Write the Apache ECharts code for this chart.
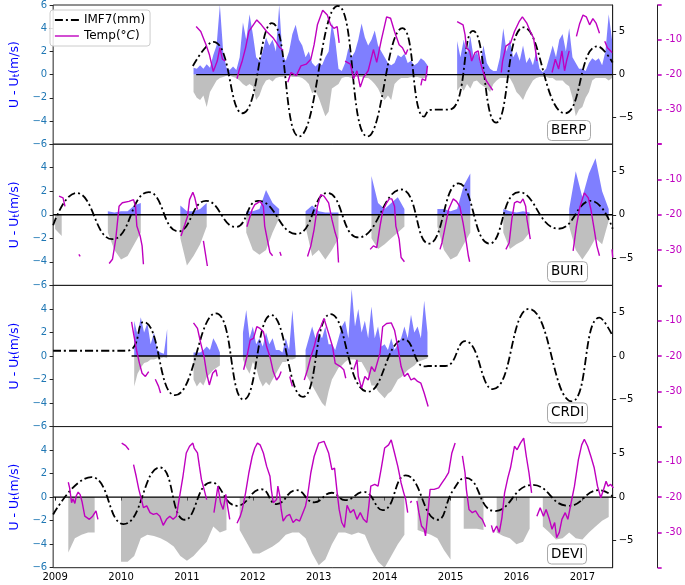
<!DOCTYPE html>
<html><head><meta charset="utf-8">
<script src="https://cdn.jsdelivr.net/npm/echarts@6/dist/echarts.min.js"></script>
<style>html,body{margin:0;padding:0;background:#fff}#c{width:685px;height:585px}</style>
</head><body><div id="c"></div>
<script>
// ---------------- DATA ----------------
const YEARS = [2009, 2010, 2011, 2012, 2013, 2014, 2015, 2016, 2017];
const STATIONS = ['BERP', 'BURI', 'CRDI', 'DEVI'];
const IMF_TICKS = [-5, 0, 5];
const TEMP_TICKS = [-10, -20, -30];

// wind anomaly envelopes (m/s), sampled every WIND_STEP yr from WIND_START
const WIND_START = [2011.10, 2009.0, 2010.20, 2009.0];
const WIND_STEP = [0.05, 0.1, 0.05, 0.1];
const BERP_POS = [
  0.6,0.5,0.8,0.5,0.9,0.6,1.7,2.5,6.0,2.0,0.6,0.4,0.7,0.4,1.5,4.5,3.0,5.2,
  3.5,1.5,1.2,2.0,3.2,2.5,3.0,2.0,6.0,1.7,1.2,2.0,3.5,4.3,3.0,2.5,1.5,2.0,1.0,0.7,
  1.0,0.8,1.5,2.0,4.5,3.0,0.5,0.3,1.0,2.3,1.5,2.0,3.0,4.4,3.2,2.5,3.0,3.8,2.5,2.0,
  1.5,1.0,0.8,1.0,1.7,1.5,1.8,1.0,1.2,0.8,1.0,1.4,1.2,0.8,null,null,null,null,null,null,
  null,null,2.9,1.5,3.0,1.8,3.3,1.5,2.0,1.0,2.5,1.0,0.5,0.3,0.3,1.5,4.0,2.0,3.0,1.5,
  2.0,1.2,2.5,1.0,1.5,0.8,2.0,0.5,0.2,0.5,1.5,2.5,1.5,3.0,3.5,2.0,4.0,1.5,1.0,0.5,
  0.5,0.3,1.0,1.4,1.2,1.4,0.8,2.0,5.2,3.0];
const BERP_NEG = [
  -1.5,-2.0,-2.2,-1.8,-2.8,-1.5,-1.0,-0.5,-0.3,-0.2,-0.1,-0.1,-0.2,-0.3,-0.5,-0.8,-1.0,-0.8,
  -1.0,-2.2,-1.8,-1.0,-0.5,-0.4,-0.6,-0.3,-0.2,-0.2,-0.1,-0.1,-0.2,-0.2,-0.2,-0.3,-0.5,-0.8,-1.6,-1.4,
  -2.0,-2.8,-3.6,-3.2,-1.2,-1.0,-0.8,-0.3,-0.2,-0.2,-0.3,-0.2,-0.2,-0.2,-0.3,-0.3,-0.5,-0.8,-1.2,-1.8,
  -2.2,-1.8,-2.2,-0.8,-0.5,-0.3,-0.3,-0.3,-0.2,-0.2,-0.2,-0.3,-0.3,-0.2,null,null,null,null,null,null,
  null,null,-1.4,-1.0,-1.4,-0.8,-1.2,-0.6,-0.5,-0.8,-1.0,-1.2,-1.5,-0.8,-0.5,-0.3,-0.3,-0.3,-0.3,-0.8,
  -1.5,-1.8,-2.2,-1.5,-1.0,-0.5,-0.3,-0.2,-0.2,-0.2,-0.3,-0.3,-0.5,-0.5,-0.5,-0.8,-1.0,-2.0,-3.6,-3.0,
  -2.8,-2.0,-1.5,-0.5,-0.3,-0.3,-0.3,-0.3,-0.5,-0.3];
const BURI_POS = [0,0,null,null,null,null,null,null,0.3,0.2,0.3,0.3,0.8,1.0,null,null,null,null,null,0.8,
  0.3,0.3,0.5,1.0,null,null,null,null,null,0.3,0.3,0.5,2.1,1.0,0.5,null,null,null,0.3,0.8,
  0.3,0.2,0.2,0.2,null,null,null,null,3.3,1.0,0.5,1.0,1.5,0.5,null,null,null,null,0.5,0.5,
  0.3,0.5,2.5,3.5,null,null,null,null,0.5,0.3,0.2,0.3,0.2,null,null,null,null,null,0.5,3.7,
  1.5,3.5,4.8,2.0,0.5];
const BURI_NEG = [-1.2,-1.8,null,null,null,null,null,null,-1.5,-3.0,-3.8,-3.5,-2.5,-1.5,null,null,null,null,null,-2.0,
  -4.3,-3.5,-2.5,-1.0,null,null,null,null,null,-1.5,-3.0,-3.4,-3.0,-1.5,-0.3,null,null,null,-1.0,-3.5,
  -3.0,-3.8,-3.0,-2.0,null,null,null,null,-2.0,-2.9,-2.5,-2.0,-1.5,-1.0,null,null,null,null,-1.0,-3.0,
  -3.8,-3.5,-2.5,-1.5,null,null,null,null,-1.5,-2.9,-2.5,-2.2,-1.5,null,null,null,null,null,-1.0,-3.0,
  -3.8,-3.0,-2.0,-2.5,-0.5];
const CRDI_POS = [
  3.0,1.8,3.3,2.0,2.8,1.0,2.0,0.5,0.3,0.2,2.3,null,null,null,null,null,
  null,null,0.3,0.3,0.3,0.5,0.8,0.5,1.5,1.0,0.3,null,null,null,null,null,null,2.0,3.9,1.5,
  2.5,1.0,1.5,0.8,2.0,1.0,1.5,0.5,0.5,0.3,1.5,0.5,3.9,0.3,null,null,0.5,1.5,2.5,1.5,
  2.0,1.5,2.5,1.0,1.0,0.5,1.5,2.5,3.0,1.5,5.7,2.5,4.0,2.0,3.0,1.5,4.2,1.5,2.5,0.8,
  1.0,0.5,1.5,0.5,1.0,1.5,2.5,1.5,3.5,2.0,2.5,1.5,4.7,2.0];
const CRDI_NEG = [
  -2.6,-1.5,-1.0,-0.6,-0.5,-0.3,-0.3,-0.2,-0.2,-0.1,-0.2,null,null,null,null,null,
  null,null,-2.0,-2.6,-2.2,-2.5,-1.8,-1.5,-1.2,-1.0,-0.8,null,null,null,null,null,null,-0.3,-1.0,-1.5,
  -0.5,-1.0,-2.0,-2.6,-2.2,-2.5,-2.0,-1.5,-1.0,-0.5,-0.5,-0.3,-0.3,-0.2,null,null,-1.5,-2.0,-2.5,-3.0,
  -3.5,-4.0,-4.3,-3.0,-2.0,-1.5,-1.0,-0.8,-0.5,-0.3,-0.3,-0.3,-0.5,-0.5,-1.0,-1.5,-2.5,-2.5,-3.0,-3.3,
  -3.6,-3.2,-3.0,-2.5,-2.0,-1.8,-1.5,-1.2,-1.0,-0.8,-0.5,-0.4,-0.3,-0.2];
const DEVI_POS = [];
const DEVI_NEG = [null,null,-4.7,-3.5,-3.2,-3.0,-3.0,null,null,null,-5.5,-5.5,-5.0,-3.5,-3.2,-3.3,-3.5,-3.8,-4.2,-5.0,
  -5.4,-5.0,-4.4,-3.8,-2.5,-3.0,-2.8,null,-2.8,-3.8,-4.8,-4.8,-4.5,-4.2,-3.8,-3.2,-3.0,-3.0,-3.5,-4.8,
  -5.8,-5.3,-4.0,-3.0,-3.0,-3.2,-3.0,-3.2,-4.5,-5.5,-6.0,-5.0,-4.0,-3.2,null,-2.8,-3.0,-3.2,-3.5,-4.5,
  -5.3,null,-2.7,-2.7,-2.7,-2.8,null,-3.0,-3.3,-3.5,-4.0,-3.8,-2.7,null,-2.5,-3.0,-3.6,-3.5,-3.0,-3.5,
  -3.6,-3.0,-2.5,-2.0,-1.7];

// extent of the U - Ut = 0 reference line (years)
const ZERO_SPAN = [[2011.14, 2017.46], [2008.97, 2017.46], [2010.16, 2014.66], [2008.97, 2017.46]];

// IMF7 (mm): [year, value]
const BERP_IMF = [[2011.09,1.0],[2011.40,3.8],[2011.84,-4.5],[2012.29,6.0],[2012.70,-7.2],[2013.29,8.0],[2013.74,-7.2],
  [2014.27,5.4],[2014.60,-4.9],[2014.70,-4.1],[2014.99,-4.06],[2015.34,5.1],[2015.69,-5.6],[2016.11,5.5],[2016.74,-4.5],
  [2017.23,3.3],[2017.46,1.4]];
const BURI_IMF = [[2008.97,-1.2],[2009.32,2.5],[2009.87,-2.8],[2010.42,2.6],[2010.87,-1.9],[2011.29,1.6],[2011.74,-1.4],
  [2012.08,1.6],[2012.66,-2.2],[2013.13,2.5],[2013.60,-2.6],[2014.25,2.9],[2014.67,-3.3],[2015.12,3.6],[2015.59,-3.3],
  [2016.04,2.6],[2016.64,-1.6],[2017.13,1.6],[2017.46,-1.6]];
const CRDI_IMF = [[2008.97,0.6],[2010.09,0.6],[2010.34,3.9],[2010.82,-4.5],[2011.44,4.9],[2011.86,-5.0],[2012.28,4.7],
  [2012.76,-4.7],[2013.18,4.8],[2013.75,-4.1],[2014.30,1.9],[2014.60,-1.2],[2014.66,-1.15],[2014.92,-1.15],[2015.22,1.7],
  [2015.64,-3.8],[2016.19,5.4],[2016.84,-5.2],[2017.26,4.4],[2017.46,2.3]];
const DEVI_IMF = [[2008.97,-2.0],[2009.55,2.3],[2010.04,-3.1],[2010.59,3.4],[2010.97,-2.6],[2011.37,1.7],[2011.76,-1.0],
  [2012.13,0.9],[2012.36,-0.8],[2012.66,0.8],[2012.93,-0.6],[2013.20,0.5],[2013.40,-0.35],[2013.68,0.6],[2013.97,-1.5],
  [2014.32,2.5],[2014.80,-2.6],[2015.04,0.8],[2015.23,2.2],[2015.67,-1.6],[2016.24,1.4],[2016.79,-1.0],[2017.26,0.8],
  [2017.47,0.0]];

// Temperature (deg C): segments of [year, value]
const BERP_TEMP = [
  [[2011.14,-6.2],[2011.21,-7.6],[2011.29,-11.4],[2011.34,-14.2],[2011.40,-19.1],[2011.46,-16.1],[2011.50,-12.3],[2011.54,-15.6],[2011.58,-16.1]],
  [[2011.76,-21.2],[2011.79,-18.9],[2011.84,-16.0],[2011.89,-12.3],[2011.94,-7.6],[2012.06,-4.3],[2012.13,-5.7],[2012.21,-7.6],[2012.31,-9.5],[2012.36,-10.9],[2012.41,-12.3],[2012.46,-13.0]],
  [[2012.53,-22.2],[2012.58,-19.4],[2012.66,-20.3],[2012.73,-17.5],[2012.81,-17.0],[2012.88,-15.6],[2012.93,-11.4],[2012.98,-5.7],[2013.06,-1.5],[2013.13,-2.9],[2013.18,-5.7],[2013.23,-6.7],[2013.28,-6.2],[2013.31,-10.9]],
  [[2013.40,-16.1],[2013.48,-17.0],[2013.53,-21.2],[2013.58,-18.9],[2013.63,-23.6],[2013.68,-20.8],[2013.75,-18.9],[2013.83,-12.8],[2013.88,-16.5],[2013.95,-10.0],[2014.03,-3.4],[2014.09,-3.8],[2014.15,-7.6],[2014.22,-11.4],[2014.27,-12.3],[2014.32,-14.2],[2014.35,-12.8]],
  [[2014.55,-23.1],[2014.57,-21.2],[2014.62,-21.7],[2014.65,-17.5]],
  [[2015.10,-4.8],[2015.19,-5.7],[2015.22,-8.5],[2015.24,-12.3],[2015.29,-13.2],[2015.32,-16.1],[2015.37,-13.7],[2015.42,-13.2],[2015.44,-15.6],[2015.49,-18.9],[2015.54,-21.7],[2015.59,-23.1],[2015.64,-24.5]],
  [[2015.77,-19.4],[2015.79,-16.1],[2015.84,-11.8],[2015.91,-10.9],[2015.97,-7.6],[2016.04,-4.8],[2016.09,-3.4],[2016.16,-5.3],[2016.21,-7.6],[2016.26,-9.5],[2016.29,-13.2],[2016.31,-16.1]],
  [[2016.54,-19.4],[2016.59,-15.6],[2016.64,-18.4],[2016.69,-13.2],[2016.73,-18.9],[2016.76,-16.1],[2016.80,-13.2]],
  [[2016.91,-9.0],[2016.96,-5.3],[2017.01,-2.9],[2017.06,-3.4],[2017.11,-5.7],[2017.16,-3.9],[2017.21,-5.3],[2017.26,-8.1]],
  [[2017.34,-10.4],[2017.38,-12.3],[2017.43,-13.2],[2017.45,-13.7]]
];
const BURI_TEMP = [
  [[2009.06,-14.7],[2009.12,-15.2],[2009.15,-17.6]],
  [[2009.36,-31.2],[2009.38,-31.8]],
  [[2009.82,-33.8],[2009.87,-32.6],[2009.92,-26.9],[2009.97,-17.6],[2010.02,-16.6],[2010.12,-16.2],[2010.19,-15.7],[2010.22,-17.6],[2010.24,-23.2],[2010.29,-26.0],[2010.32,-28.8],[2010.34,-34.0]],
  [[2010.91,-26.0],[2010.97,-22.7],[2011.01,-20.4],[2011.04,-15.7],[2011.09,-13.6],[2011.12,-15.2],[2011.16,-18.5]],
  [[2011.25,-27.4],[2011.31,-34.5]],
  [[2011.91,-23.4],[2011.99,-18.5],[2012.03,-17.1],[2012.11,-16.2],[2012.16,-17.6],[2012.18,-23.2],[2012.22,-27.0],[2012.26,-30.7],[2012.30,-31.6]],
  [[2012.41,-30.5],[2012.43,-31.6]],
  [[2012.83,-31.8],[2012.88,-28.8],[2012.93,-24.1],[2012.98,-17.6],[2013.03,-14.3],[2013.08,-14.7],[2013.15,-16.6],[2013.20,-21.3],[2013.25,-25.1],[2013.28,-26.9],[2013.30,-33.5]],
  [[2013.78,-29.8],[2013.83,-28.8],[2013.88,-29.3],[2013.93,-23.2],[2013.97,-19.0],[2014.03,-16.6],[2014.07,-15.5],[2014.11,-15.5],[2014.15,-17.6],[2014.17,-23.2],[2014.22,-26.9],[2014.25,-32.1],[2014.30,-33.3]],
  [[2014.84,-29.8],[2014.87,-27.9],[2014.92,-23.2],[2014.97,-18.5],[2015.04,-15.5],[2015.09,-16.2],[2015.14,-17.6],[2015.19,-22.3],[2015.24,-27.9],[2015.27,-31.6],[2015.29,-33.3]],
  [[2015.84,-29.8],[2015.89,-27.9],[2015.93,-21.3],[2015.97,-16.6],[2016.01,-16.2],[2016.06,-16.6],[2016.10,-15.5],[2016.14,-17.6],[2016.16,-21.3],[2016.21,-26.9]],
  [[2016.86,-30.2],[2016.91,-23.2],[2016.96,-18.0],[2017.03,-13.8],[2017.09,-15.2],[2017.13,-18.5],[2017.18,-24.1],[2017.22,-28.8],[2017.26,-31.6]],
  [[2017.45,-29.8],[2017.46,-32.1]]
];
const CRDI_TEMP = [
  [[2010.16,-10.3],[2010.19,-13.6],[2010.24,-18.8],[2010.28,-22.1],[2010.32,-24.9],[2010.37,-25.8],[2010.42,-24.4]],
  [[2010.52,-26.6],[2010.57,-28.6],[2010.60,-30.5]],
  [[2011.10,-10.6],[2011.16,-12.2],[2011.21,-16.4],[2011.26,-20.2],[2011.30,-24.9],[2011.34,-28.2],[2011.39,-24.9],[2011.44,-23.9],[2011.46,-25.8]],
  [[2011.86,-23.9],[2011.91,-20.2],[2011.96,-15.5],[2012.01,-15.0],[2012.06,-11.7],[2012.11,-12.2],[2012.16,-13.1],[2012.21,-17.4],[2012.26,-20.2],[2012.31,-24.4],[2012.36,-26.8],[2012.40,-25.8],[2012.43,-24.4]],
  [[2012.56,-25.8],[2012.60,-28.6]],
  [[2012.78,-26.8],[2012.83,-23.9],[2012.88,-20.2],[2012.93,-17.4],[2012.98,-13.6],[2013.03,-11.7],[2013.08,-9.4],[2013.15,-13.6],[2013.21,-17.4],[2013.25,-22.1],[2013.33,-23.0],[2013.38,-23.9],[2013.41,-26.3]],
  [[2013.53,-23.9],[2013.58,-21.1],[2013.60,-25.8],[2013.65,-29.1],[2013.70,-25.8],[2013.75,-26.8],[2013.80,-23.0],[2013.85,-24.4],[2013.93,-19.2],[2013.97,-11.7],[2014.03,-10.8],[2014.10,-10.6],[2014.15,-12.7],[2014.20,-17.4],[2014.25,-23.0],[2014.30,-25.8],[2014.35,-24.9],[2014.40,-26.8],[2014.45,-26.3],[2014.50,-27.2],[2014.55,-27.7],[2014.60,-30.5],[2014.66,-34.3]]
];
const DEVI_TEMP = [
  [[2009.20,-15.8],[2009.22,-17.4],[2009.25,-21.6],[2009.27,-20.5],[2009.30,-21.8],[2009.32,-19.7],[2009.35,-18.6],[2009.38,-19.3],[2009.41,-21.4],[2009.45,-25.4],[2009.48,-24.9],[2009.52,-26.3],[2009.57,-25.4],[2009.62,-23.9],[2009.65,-26.3]],
  [[2010.01,-4.7],[2010.07,-5.4],[2010.12,-6.6]],
  [[2010.19,-10.8],[2010.23,-14.1],[2010.27,-17.8],[2010.31,-20.7],[2010.34,-23.0],[2010.39,-22.5],[2010.44,-24.4],[2010.49,-24.9],[2010.54,-24.6],[2010.59,-25.4],[2010.64,-28.0],[2010.69,-26.3],[2010.74,-25.4],[2010.79,-26.3],[2010.84,-25.4],[2010.89,-19.7],[2010.94,-14.1],[2010.99,-7.5],[2011.04,-5.6],[2011.09,-4.7],[2011.11,-6.1],[2011.16,-7.5],[2011.19,-11.3],[2011.22,-15.0],[2011.26,-17.8],[2011.30,-20.7]],
  [[2011.41,-24.4],[2011.44,-20.7],[2011.47,-16.9],[2011.51,-21.6],[2011.55,-23.5],[2011.59,-19.2],[2011.62,-23.0],[2011.65,-26.3]],
  [[2011.76,-27.4],[2011.81,-25.4],[2011.84,-23.5],[2011.89,-18.8],[2011.94,-13.1],[2011.99,-8.5],[2012.03,-6.1],[2012.07,-4.7],[2012.11,-5.2],[2012.16,-7.5],[2012.21,-11.3],[2012.26,-14.1],[2012.28,-17.8],[2012.31,-21.6],[2012.36,-20.7],[2012.38,-16.9],[2012.41,-19.7],[2012.43,-23.5],[2012.46,-26.8],[2012.51,-25.4],[2012.56,-24.9],[2012.61,-27.2],[2012.66,-26.3],[2012.71,-26.8],[2012.76,-24.4],[2012.80,-22.5],[2012.83,-19.7],[2012.88,-13.1],[2012.93,-8.5],[2013.00,-4.7],[2013.08,-4.2],[2013.10,-4.7],[2013.15,-7.5],[2013.20,-12.2],[2013.24,-11.8],[2013.28,-18.8],[2013.31,-23.5],[2013.35,-27.2],[2013.39,-28.6],[2013.43,-22.3],[2013.48,-24.4],[2013.53,-23.5],[2013.58,-26.3],[2013.63,-24.4],[2013.68,-26.3],[2013.73,-27.2],[2013.76,-22.5],[2013.79,-16.9],[2013.85,-16.4],[2013.90,-16.9],[2013.95,-11.7],[2014.00,-6.1],[2014.06,-5.2],[2014.10,-3.8],[2014.15,-7.5],[2014.20,-11.3],[2014.25,-16.0],[2014.29,-18.8],[2014.32,-20.7],[2014.35,-24.4]],
  [[2014.39,-21.6],[2014.41,-21.1]],
  [[2014.49,-21.1],[2014.52,-24.4],[2014.56,-28.2],[2014.60,-29.1],[2014.62,-31.0],[2014.66,-23.9],[2014.69,-17.8],[2014.75,-17.8],[2014.82,-17.4],[2014.87,-16.0],[2014.92,-14.6],[2014.97,-13.1],[2015.02,-7.5],[2015.07,-4.7]],
  [[2015.18,-8.3],[2015.22,-13.1],[2015.24,-17.8],[2015.28,-23.5],[2015.33,-24.4],[2015.38,-23.9],[2015.43,-25.4],[2015.48,-26.3],[2015.53,-28.4]],
  [[2015.62,-28.0],[2015.65,-30.0],[2015.70,-28.2],[2015.74,-30.0],[2015.78,-25.8],[2015.82,-18.8],[2015.87,-14.5],[2015.91,-11.7],[2015.97,-5.6],[2016.01,-6.6],[2016.06,-4.7],[2016.11,-3.3],[2016.15,-8.5],[2016.19,-13.1],[2016.23,-18.8]],
  [[2016.31,-25.4],[2016.36,-23.0],[2016.41,-25.4],[2016.45,-23.5],[2016.50,-26.3],[2016.54,-29.1],[2016.58,-27.2],[2016.61,-31.5],[2016.65,-30.0],[2016.69,-26.3],[2016.74,-24.4],[2016.78,-26.3],[2016.83,-21.6],[2016.88,-16.9],[2016.94,-9.4],[2016.99,-5.2],[2017.03,-3.6],[2017.08,-5.6],[2017.13,-8.5],[2017.18,-11.7],[2017.23,-16.9],[2017.28,-20.2],[2017.32,-18.0],[2017.36,-15.5],[2017.39,-16.9],[2017.43,-16.4],[2017.47,-17.4]]
];

// ---------------- CHART ----------------
const POS = [BERP_POS, BURI_POS, CRDI_POS, DEVI_POS];
const NEG = [BERP_NEG, BURI_NEG, CRDI_NEG, DEVI_NEG];
const IMF = [BERP_IMF, BURI_IMF, CRDI_IMF, DEVI_IMF];
const TEMP = [BERP_TEMP, BURI_TEMP, CRDI_TEMP, DEVI_TEMP];

const FONT = 'DejaVu Sans';
const X_MIN = 2008.97, X_MAX = 2017.46;
const TOPS = [3, 144.2, 285.4, 426.5];
const PH = 141.2;
const MAG = '#bf00bf';
const DASHDOT = [8, 3, 2, 3];
const minus = v => (v < 0 ? '\u2212' + Math.abs(v) : String(v));

function windData(arr, start, step) {
  return arr.map((v, i) => [+(start + i * step).toFixed(3), v == null ? '-' : v]);
}
function segData(segs) {
  const out = [];
  segs.forEach((s, k) => { if (k) out.push([s[0][0], '-']); s.forEach(p => out.push(p)); });
  return out;
}

const grid = [], xAxis = [], yAxis = [], series = [], title = [];
for (let i = 0; i < 4; i++) {
  grid.push({ left: 43, right: 72, top: TOPS[i], height: PH, show: true, borderColor: '#222', borderWidth: 1, containLabel: false });
  const bottom = i === 3;
  xAxis.push({
    gridIndex: i, type: 'value', min: X_MIN, max: X_MAX,
    splitLine: { show: false }, axisLine: { show: false },
    axisTick: { show: bottom, customValues: YEARS, length: 3.5, lineStyle: { color: '#222' } },
    axisLabel: { show: bottom, customValues: YEARS, formatter: v => String(Math.round(v)), fontFamily: FONT, fontSize: 10, color: '#000', margin: 5 }
  });
  yAxis.push({
    gridIndex: i, type: 'value', min: -6, max: 6, interval: 2, position: 'left',
    name: 'U - U{sub|t}(m/s)', nameLocation: 'middle', nameGap: 31, nameRotate: 90,
    nameTextStyle: { color: '#0000ff', fontFamily: FONT, fontSize: 12.5, rich: { sub: { color: '#0000ff', fontFamily: FONT, fontSize: 9, padding: [5, 0, 0, 0] } } },
    splitLine: { show: false }, axisLine: { show: false },
    axisTick: { show: true, length: 3.5, lineStyle: { color: '#222' } },
    axisLabel: { color: '#1f77b4', fontFamily: FONT, fontSize: 10, margin: 6,
      formatter: v => (i > 0 && v === 6 ? '' : minus(v)) }
  });
  yAxis.push({
    gridIndex: i, type: 'value', min: -8.1, max: 8.1, position: 'right',
    splitLine: { show: false }, axisLine: { show: true, lineStyle: { color: '#222' } },
    axisTick: { show: true, customValues: IMF_TICKS, length: 3.5, lineStyle: { color: '#222' } },
    axisLabel: { customValues: IMF_TICKS, color: '#000', fontFamily: FONT, fontSize: 10, margin: 6, formatter: v => minus(v) }
  });
  yAxis.push({
    gridIndex: i, type: 'value', min: -40, max: 0, interval: 10, position: 'right', offset: 45,
    splitLine: { show: false }, axisLine: { show: true, lineStyle: { color: '#222' } },
    axisTick: { show: true, length: 4, lineStyle: { color: MAG, width: 1.6 } },
    axisLabel: { color: MAG, fontFamily: FONT, fontSize: 10, margin: 8,
      formatter: v => (TEMP_TICKS.indexOf(v) >= 0 ? String(v) : '') }
  });
  if (POS[i].length) series.push({
    type: 'line', xAxisIndex: i, yAxisIndex: 3 * i, data: windData(POS[i], WIND_START[i], WIND_STEP[i]),
    showSymbol: false, symbol: 'none', lineStyle: { width: 0 }, areaStyle: { color: 'rgba(0,0,255,0.5)', opacity: 1 },
    silent: true, z: 1, connectNulls: false
  });
  series.push({
    type: 'line', xAxisIndex: i, yAxisIndex: 3 * i, data: windData(NEG[i], WIND_START[i], WIND_STEP[i]),
    showSymbol: false, symbol: 'none', lineStyle: { width: 0 }, areaStyle: { color: 'rgba(128,128,128,0.5)', opacity: 1 },
    silent: true, z: 1, connectNulls: false
  });
  series.push({
    type: 'line', xAxisIndex: i, yAxisIndex: 3 * i, data: [[ZERO_SPAN[i][0], 0], [ZERO_SPAN[i][1], 0]],
    showSymbol: false, symbol: 'none', lineStyle: { color: '#000', width: 1.4 }, silent: true, z: 2
  });
  series.push({
    name: 'IMF7(mm)', type: 'line', xAxisIndex: i, yAxisIndex: 3 * i + 1, data: IMF[i],
    smooth: 0.5, showSymbol: false, symbol: 'none',
    lineStyle: { color: '#000', width: 1.8, type: DASHDOT }, itemStyle: { color: '#000' }, silent: true, z: 3
  });
  series.push({
    name: 'Temp(°C)', type: 'line', xAxisIndex: i, yAxisIndex: 3 * i + 2, data: segData(TEMP[i]),
    showSymbol: false, symbol: 'none', connectNulls: false,
    lineStyle: { color: MAG, width: 1.4 }, itemStyle: { color: MAG }, silent: true, z: 4
  });
  title.push({
    text: STATIONS[i], left: 547, top: TOPS[i] + 117,
    padding: [3, 4, 3, 4], borderColor: '#aaaaaa', borderWidth: 1, borderRadius: 4,
    backgroundColor: 'rgba(255,255,255,0.8)',
    textStyle: { fontFamily: FONT, fontSize: 13.5, fontWeight: 'normal', color: '#000', lineHeight: 15 }
  });
}

const chart = echarts.init(document.getElementById('c'), null, { renderer: 'canvas' });
chart.setOption({
  animation: false,
  backgroundColor: '#fff',
  textStyle: { fontFamily: FONT },
  title, grid, xAxis, yAxis, series,
  legend: {
    data: [
      { name: 'IMF7(mm)', itemStyle: { opacity: 0 }, lineStyle: { color: '#000', width: 1.8, type: DASHDOT } },
      { name: 'Temp(°C)', itemStyle: { opacity: 0 }, lineStyle: { color: MAG, width: 1.4 } }
    ],
    orient: 'vertical', left: 50, top: 10,
    itemWidth: 24, itemHeight: 10, itemGap: 4, padding: [4, 5, 4, 4],
    borderColor: '#cccccc', borderWidth: 1, borderRadius: 3, backgroundColor: 'rgba(255,255,255,0.85)',
    selectedMode: false, z: 10,
    formatter: n => (n === 'Temp(°C)' ? 'Temp(°{it|C})' : n),
    textStyle: { fontFamily: FONT, fontSize: 12, color: '#000',
      rich: { it: { fontFamily: FONT, fontSize: 12, fontStyle: 'italic', color: '#000' } } }
  }
});
</script></body></html>
